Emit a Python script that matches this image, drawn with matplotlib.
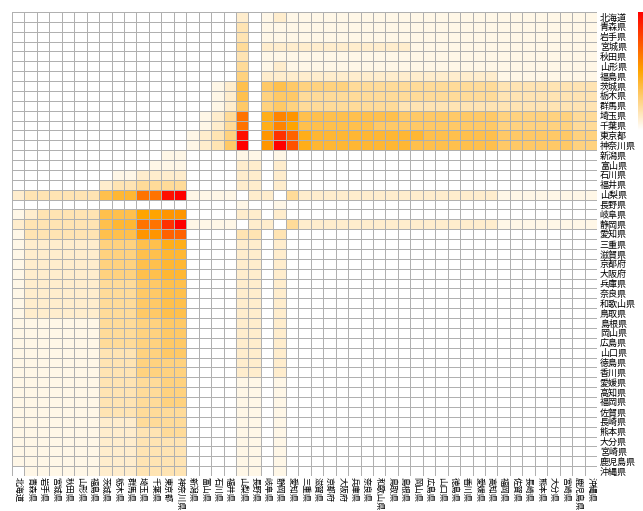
import numpy as np
import matplotlib
matplotlib.use("Agg")
import matplotlib.pyplot as plt
from matplotlib.colors import LinearSegmentedColormap

plt.rcParams['font.family'] = ['Noto Sans CJK JP', 'DejaVu Sans']

prefs = ['北海道', '青森県', '岩手県', '宮城県', '秋田県', '山形県', '福島県',
         '茨城県', '栃木県', '群馬県', '埼玉県', '千葉県', '東京都', '神奈川県',
         '新潟県', '富山県', '石川県', '福井県', '山梨県', '長野県', '岐阜県',
         '静岡県', '愛知県', '三重県', '滋賀県', '京都府', '大阪府', '兵庫県',
         '奈良県', '和歌山県', '鳥取県', '島根県', '岡山県', '広島県', '山口県',
         '徳島県', '香川県', '愛媛県', '高知県', '福岡県', '佐賀県', '長崎県',
         '熊本県', '大分県', '宮崎県', '鹿児島県', '沖縄県']

# cell levels, 0 (white) .. k=20 (red), one string per row
# groups: cols 0-13 | 14-17 | 18-22 | 23-30 | 31-38 | 39-46
rows_top = [
    "00000000000000 0000 20121 11111111 11111111 11111111",
    "00000000000000 0000 30111 11111111 11111111 11111111",
    "00000000000000 0000 30111 11111111 11111111 11111111",
    "00000000000000 0000 40222 22222222 21111111 11111111",
    "00000000000000 0000 30111 11111111 11111111 11111111",
    "00000000000000 0000 40121 11111111 11111111 11111111",
    "00000000000000 0000 50222 22222222 22222222 11111111",
    "00000000000000 0012 70676 55554444 44444444 33333333",
    "00000000000000 0012 70566 44444444 44444444 33333333",
    "00000000000000 0012 60565 44444444 33333333 33333333",
    "00000000000000 0124 d09cb 77777777 66666666 55555544",
    "00000000000000 0124 d09ca 77777766 66666666 55555544",
    "00000000000000 1235 j0bhe 98888888 88777777 66666655",
    "00000000000000 1236 k0bkf 98888888 87777777 66666655",
]
rows_mid = [
    "00000000000011 0000 11010 00000000 00000000 00000000",
    "00000000000111 0000 22020 00000000 00000000 00000000",
    "00000000112222 0000 22020 00000000 00000000 00000000",
    "00000002334444 0000 22020 00000000 00000000 00000000",
    "2333333788ddjk 1111 02204 22222222 22222222 11111111",
    "00000000000000 0000 10010 00000000 00000000 00000000",
    "1233333777aabb 0000 22020 00000000 00000000 00000000",
    "2333333788ddhk 1111 02204 22222222 22222222 11111111",
    "1333333777bbee 0000 33030 00000000 00000000 00000000",
]
rows_west = [
    "12222225557799 0000 22020 00000000 00000000 00000000",
    "12222225557788 0000 22020 00000000 00000000 00000000",
    "12222225557788 0000 22020 00000000 00000000 00000000",
    "12222225557788 0000 22020 00000000 00000000 00000000",
    "12222224446677 0000 22020 00000000 00000000 00000000",
    "12222224446677 0000 22020 00000000 00000000 00000000",
    "12222224446677 0000 22020 00000000 00000000 00000000",
    "12222224446677 0000 22020 00000000 00000000 00000000",
    "11111114445566 0000 22020 00000000 00000000 00000000",
    "11111114445566 0000 22020 00000000 00000000 00000000",
    "11111114445566 0000 22020 00000000 00000000 00000000",
    "11111113335566 0000 22020 00000000 00000000 00000000",
    "11111113335555 0000 22020 00000000 00000000 00000000",
    "11111113335555 0000 22020 00000000 00000000 00000000",
    "11111113334455 0000 11010 00000000 00000000 00000000",
    "11111113334455 0000 11010 00000000 00000000 00000000",
    "11111113334455 0000 11010 00000000 00000000 00000000",
    "11111113334444 0000 11010 00000000 00000000 00000000",
    "11111112224444 0000 11010 00000000 00000000 00000000",
    "11111112223344 0000 11010 00000000 00000000 00000000",
    "11111112223333 0000 11010 00000000 00000000 00000000",
    "11111112223333 0000 11010 00000000 00000000 00000000",
    "11111112223333 0000 11010 00000000 00000000 00000000",
    "01111112223333 0000 11010 00000000 00000000 00000000",
]

levels = '0123456789abcdefghijk'
rows = rows_top + rows_mid + rows_west
Z = np.array([[levels.index(ch) for ch in r.replace(' ', '')] for r in rows]) / 20.0

cmap = LinearSegmentedColormap.from_list('wor', ['white', 'orange', 'red'])

fig = plt.figure(figsize=(6.43, 5.11), dpi=100)
ax = fig.add_axes([12 / 643, 1 - 476 / 511, 585 / 643, 464 / 511])
n = len(prefs)
mesh = ax.pcolormesh(np.arange(n + 1), np.arange(n + 1), Z, cmap=cmap, vmin=0, vmax=1,
                     edgecolors='#b0b0b0', linewidth=0.7)
ax.set_xlim(0, n)
ax.set_ylim(n, 0)
ax.set_xticks(np.arange(n) + 0.5)
ax.set_xticklabels(prefs, rotation=270, fontsize=6, ha='center', va='top')
ax.set_yticks(np.arange(n) + 0.5)
ax.set_yticklabels(prefs, fontsize=6.5)
ax.yaxis.tick_right()
ax.tick_params(length=0, pad=2)
ax.tick_params(axis='x', pad=1)
for s in ax.spines.values():
    s.set_visible(False)

cax = fig.add_axes([638 / 643, 1 - 130 / 511, 12 / 643, 118 / 511])
cb = fig.colorbar(mesh, cax=cax)
cb.outline.set_visible(False)
cax.set_yticks([])

fig.savefig('out.png', dpi=100)
